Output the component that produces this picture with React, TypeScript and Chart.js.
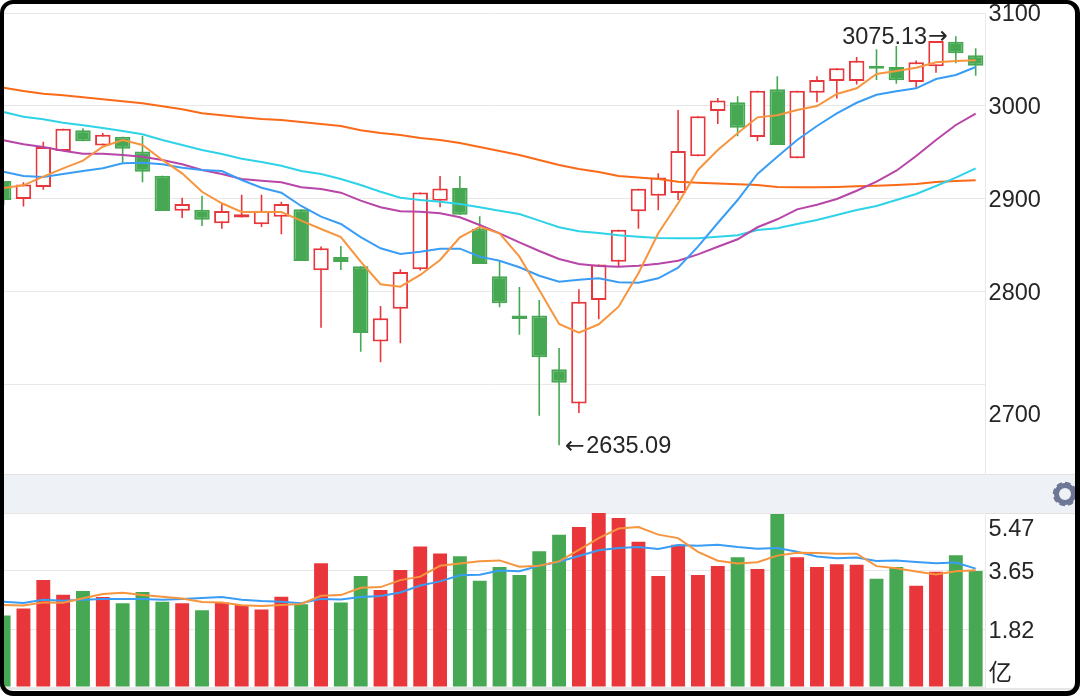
import React, { useEffect, useRef } from "react";
import { Chart, registerables } from "chart.js";

Chart.register(...registerables);

const categories = Array.from({ length: 50 }, (_, i) => String(i + 1));

const opens = [2919.4, 2900, 2913, 2951.6, 2974, 2957.5, 2967, 2951, 2925, 2887.4, 2888.5, 2874, 2880, 2872.8, 2881, 2889, 2823.3, 2837.6, 2827.6, 2746.9, 2782, 2824.4, 2898, 2911.8, 2868, 2816.9, 2774.6, 2774.6, 2717, 2680, 2791.4, 2832.6, 2886.8, 2903.5, 2906.5, 2946, 2994.6, 3004, 2966.7, 3018, 2943.8, 3014.3, 3027, 3027, 3043, 3042, 3025.8, 3042.7, 3069, 3054.5];
const closes = [2899, 2915.6, 2956, 2975.6, 2962, 2969, 2954, 2929.4, 2887, 2894.6, 2877.8, 2887, 2883.5, 2887.4, 2894.6, 2833.3, 2847, 2832.3, 2756, 2771.7, 2821.5, 2907, 2911.4, 2883, 2830, 2787.8, 2771, 2729.8, 2702.5, 2789.6, 2829.7, 2867, 2911, 2923, 2951.6, 2989, 3006, 2976.7, 3016.5, 2958, 3016.5, 3028, 3040.5, 3048.7, 3040, 3027.6, 3047, 3070, 3056.6, 3043.3];
const highs = [2919.4, 2918, 2961.6, 2975.6, 2976, 2971, 2967, 2968, 2925, 2901.4, 2903.6, 2895.4, 2904.6, 2904.6, 2897, 2889, 2849, 2849.5, 2827.6, 2785, 2824.4, 2907, 2924.7, 2924.7, 2881.4, 2833, 2805.4, 2791.4, 2739.8, 2802.9, 2829.7, 2867, 2911, 2927.6, 2995.7, 2989, 3008.6, 3010.4, 3016.5, 3032, 3016.5, 3032, 3040.5, 3052.7, 3061, 3064.5, 3049, 3070, 3075.13, 3062];
const lows = [2893.5, 2892, 2910, 2951.6, 2962, 2957.5, 2939, 2918, 2887, 2879.6, 2871, 2868, 2880, 2870, 2862, 2833.3, 2761.6, 2823.6, 2735.8, 2724.4, 2744.8, 2823, 2891, 2883, 2830, 2783.5, 2754, 2667, 2635.09, 2670, 2770.6, 2828, 2868, 2888, 2899, 2946, 2980.6, 2967.4, 2962, 2958, 2943.8, 3004, 3008, 3023, 3028, 3024, 3019.7, 3035.8, 3046, 3032.6];

const ma5 = [2911.8, 2914.7, 2924, 2933, 2941.2, 2956.2, 2963.4, 2958.1, 2942, 2927.6, 2907.8, 2895.4, 2886, 2886, 2886, 2876.7, 2867.7, 2859.1, 2832.6, 2808.3, 2805.7, 2818.3, 2834.4, 2858.8, 2870.2, 2863.1, 2838, 2802.1, 2765.6, 2756.2, 2765.3, 2784.2, 2820.1, 2863.1, 2895.4, 2931.2, 2952.7, 2970.6, 2987.8, 2990, 2995.7, 3000, 3012.9, 3019, 3034.4, 3037.6, 3041.2, 3047, 3048.4, 3049.1];
const ma10 = [2929.3, 2924.7, 2923.6, 2926.9, 2930.1, 2933, 2938.4, 2939, 2937.3, 2933.7, 2931.2, 2930.1, 2920.4, 2912.1, 2906.8, 2892.5, 2881, 2873.1, 2859.1, 2847, 2840.9, 2843.3, 2846.6, 2846.6, 2838, 2833.6, 2826.6, 2817.5, 2811.1, 2813.2, 2814.7, 2810.4, 2810, 2814.7, 2826.1, 2848.7, 2874.2, 2898.9, 2926.9, 2945.5, 2963.4, 2978.5, 2992.1, 3003.5, 3012.1, 3015.8, 3019, 3029, 3033.3, 3041.9];
const ma20 = [2963.1, 2958.8, 2955.9, 2951.9, 2948.7, 2948.7, 2947.3, 2945.5, 2941.9, 2937.3, 2931.2, 2926.9, 2921.5, 2919.7, 2918, 2912.6, 2910.7, 2906.8, 2898.2, 2891.1, 2886.8, 2886.3, 2884.6, 2880.3, 2872, 2863.1, 2853.4, 2844.1, 2835.5, 2830.1, 2828, 2827.2, 2828.3, 2830.4, 2833.6, 2840.5, 2848.7, 2856.7, 2869.6, 2878.2, 2888.9, 2893.9, 2900, 2908.9, 2918.6, 2930.4, 2946.2, 2963.4, 2979.6, 2991.7];
const ma30 = [2993.5, 2988.5, 2985.7, 2982, 2979.2, 2976.3, 2973.1, 2969.6, 2963.4, 2958.1, 2952.7, 2948.4, 2943.3, 2939.8, 2935.8, 2930.1, 2926.9, 2921.5, 2915, 2907.8, 2901.4, 2898.9, 2897.1, 2894.6, 2891.1, 2887.4, 2883.9, 2876.7, 2869.6, 2865.3, 2863.4, 2861, 2859.5, 2858.1, 2857.7, 2857.7, 2859.5, 2861, 2866.7, 2868.5, 2873.1, 2877.4, 2882.8, 2888.2, 2892.5, 2898.9, 2905.4, 2914, 2922.9, 2933];
const ma60 = [3019.7, 3016.1, 3013.2, 3011.5, 3009.4, 3007.2, 3005.1, 3002.9, 2999.7, 2996.5, 2992.1, 2990, 2987.8, 2986, 2984.9, 2982.8, 2980.6, 2978.5, 2973.9, 2971, 2968.8, 2965.6, 2963.4, 2960.2, 2955.9, 2951.6, 2947.3, 2941.9, 2936.6, 2932.3, 2929, 2924.7, 2923.1, 2921.5, 2918.6, 2917.5, 2916.7, 2915.8, 2915, 2912.9, 2912.6, 2912.6, 2912.9, 2913.6, 2914.3, 2915, 2916.1, 2918.3, 2919.4, 2920.1];

const volumes = [2.25, 2.47, 3.36, 2.9, 3.02, 2.83, 2.63, 2.99, 2.68, 2.63, 2.41, 2.66, 2.58, 2.44, 2.84, 2.6, 3.89, 2.66, 3.49, 3.05, 3.68, 4.42, 4.2, 4.11, 3.34, 3.77, 3.52, 4.27, 4.79, 5.03, 5.47, 5.31, 4.57, 3.49, 4.47, 3.52, 3.8, 4.08, 3.71, 5.44, 4.08, 3.77, 3.86, 3.84, 3.4, 3.77, 3.18, 3.62, 4.14, 3.65];
const volMa5 = [2.58, 2.56, 2.66, 2.65, 2.79, 2.92, 2.96, 2.89, 2.84, 2.78, 2.67, 2.66, 2.57, 2.55, 2.58, 2.61, 2.87, 2.89, 3.12, 3.14, 3.36, 3.47, 3.81, 3.88, 3.95, 3.98, 3.78, 3.81, 3.95, 4.31, 4.68, 4.98, 5.03, 4.79, 4.68, 4.25, 3.97, 3.88, 3.92, 4.13, 4.22, 4.21, 4.19, 4.19, 3.8, 3.73, 3.63, 3.54, 3.64, 3.67];
const volMa10 = [2.68, 2.64, 2.74, 2.71, 2.74, 2.77, 2.77, 2.77, 2.74, 2.77, 2.8, 2.83, 2.74, 2.7, 2.68, 2.63, 2.77, 2.75, 2.83, 2.86, 2.97, 3.19, 3.32, 3.51, 3.53, 3.66, 3.64, 3.81, 3.94, 4.12, 4.3, 4.37, 4.4, 4.34, 4.46, 4.44, 4.47, 4.4, 4.35, 4.37, 4.25, 4.1, 4.05, 4.07, 3.96, 3.98, 3.93, 3.89, 3.91, 3.72];

const priceTicks = [3100, 3000, 2900, 2800, 2700];
const volumeTicks = [5.47, 3.65, 1.82, 0];
const lowValueText = "2635.09";
const highValueText = "3075.13";
const leftArrow = "←";
const rightArrow = "→";
const volumeUnit = "亿";

const RED = "#e8363b";
const GREEN = "#47a853";
const GRID = "#e8e8e8";
const TEXT = "#262626";
const FONT = '"Liberation Sans", "Noto Sans CJK SC", sans-serif';
const ARROW_FONT = '"DejaVu Sans", sans-serif';
const TEXT_SIZE = 23.5;

const isUp = (i: number) => closes[i] >= opens[i];
const candleColors = categories.map((_, i) => (isUp(i) ? RED : GREEN));
const bodyFills = categories.map((_, i) => (isUp(i) ? "#ffffff" : GREEN));

const line = (label: string, data: number[], color: string, borderWidth = 2) => ({
  type: "line" as const,
  label,
  data,
  borderColor: color,
  borderWidth,
  pointRadius: 0,
  tension: 0,
  fill: false,
  order: 0,
});

const annotationPlugin = {
  id: "extremes",
  afterDatasetsDraw(chart: any) {
    const { ctx, scales } = chart;
    const lowI = lows.indexOf(Math.min(...lows));
    const highI = highs.indexOf(Math.max(...highs));
    ctx.save();
    ctx.fillStyle = TEXT;
    ctx.textBaseline = "middle";
    const lowX = scales.x.getPixelForValue(lowI) + 6;
    const lowY = scales.y.getPixelForValue(lows[lowI]) + 1.5;
    const highX = scales.x.getPixelForValue(highI) - 8;
    const highY = scales.y.getPixelForValue(highs[highI]) + 1;

    ctx.textAlign = "left";
    ctx.font = `${TEXT_SIZE}px ${ARROW_FONT}`;
    ctx.fillText(leftArrow, lowX, lowY);
    const leftW = ctx.measureText(leftArrow).width;
    ctx.font = `${TEXT_SIZE}px ${FONT}`;
    ctx.fillText(lowValueText, lowX + leftW + 1.5, lowY);

    ctx.textAlign = "right";
    ctx.font = `${TEXT_SIZE}px ${ARROW_FONT}`;
    ctx.fillText(rightArrow, highX, highY);
    const rightW = ctx.measureText(rightArrow).width;
    ctx.font = `${TEXT_SIZE}px ${FONT}`;
    ctx.fillText(highValueText, highX - rightW - 1, highY);
    ctx.restore();
  },
};

const AXIS_WIDTH = 94.4;
const LABEL_SHIFT = 2;

function yAxis(min: number, max: number, tickValues: number[], label: (v: number) => any) {
  return {
    position: "right" as const,
    min,
    max,
    afterBuildTicks(scale: any) {
      scale.ticks = tickValues.map((value) => ({ value }));
    },
    afterFit(scale: any) {
      scale.width = AXIS_WIDTH;
      if (!scale.__shifted) {
        scale.__shifted = true;
        const original = scale.drawLabels.bind(scale);
        scale.drawLabels = (area: any) => {
          scale.ctx.save();
          scale.ctx.translate(0, LABEL_SHIFT);
          original(area);
          scale.ctx.restore();
        };
      }
    },
    border: { display: true, color: GRID, width: 1 },
    grid: { color: GRID, lineWidth: 1, drawTicks: false },
    ticks: {
      autoSkip: false,
      padding: 3,
      color: TEXT,
      font: { family: FONT, size: TEXT_SIZE, lineHeight: 1.2 },
      callback: (v: any) => label(Number(v)),
    },
  };
}

const xAxis = { display: false, offset: true, grid: { display: false } };

export default function App() {
  const priceRef = useRef<HTMLCanvasElement>(null);
  const volumeRef = useRef<HTMLCanvasElement>(null);

  useEffect(() => {
    const price = new Chart(priceRef.current!, {
      type: "bar",
      data: {
        labels: categories,
        datasets: [
          line("MA5", ma5, "#f7953f"),
          line("MA10", ma10, "#3a9df5"),
          line("MA20", ma20, "#b845a8"),
          line("MA30", ma30, "#2ed3e8"),
          line("MA60", ma60, "#fa6a18"),
          {
            label: "K",
            data: categories.map((_, i) => [opens[i], closes[i]]),
            backgroundColor: bodyFills,
            borderColor: candleColors,
            borderWidth: 2,
            borderSkipped: false,
            inflateAmount: 0,
            grouped: false,
            categoryPercentage: 1,
            barPercentage: 0.78,
            order: 1,
          },
          {
            label: "HL",
            data: categories.map((_, i) => [lows[i], highs[i]]),
            backgroundColor: candleColors,
            borderWidth: 0,
            inflateAmount: 0,
            grouped: false,
            barThickness: 1.6,
            order: 2,
          },
        ] as any,
      },
      options: {
        animation: false,
        responsive: false,
        layout: { padding: { left: 0.7, top: 53, bottom: 40, right: 0 } },
        plugins: { legend: { display: false }, tooltip: { enabled: false } },
        scales: {
          x: xAxis,
          y: yAxis(2604.3, 3100, priceTicks, (v) => (v === 2700 ? ["", "", String(v)] : String(v))),
        },
      } as any,
      plugins: [annotationPlugin],
    });

    const volume = new Chart(volumeRef.current!, {
      type: "bar",
      data: {
        labels: categories,
        datasets: [
          line("VMA5", volMa5, "#f7953f"),
          line("VMA10", volMa10, "#3a9df5"),
          {
            label: "VOL",
            data: volumes,
            backgroundColor: candleColors,
            borderWidth: 0,
            inflateAmount: 0,
            grouped: false,
            categoryPercentage: 1,
            barPercentage: 0.7,
            order: 1,
          },
        ] as any,
      },
      options: {
        animation: false,
        responsive: false,
        layout: { padding: { left: 0.7, top: 40, bottom: 40, right: 0 } },
        plugins: { legend: { display: false }, tooltip: { enabled: false } },
        scales: {
          x: xAxis,
          y: yAxis(0, 5.47, volumeTicks, (v) => {
            if (v === 0) return [volumeUnit, ""];
            if (v === 5.47) return ["", v.toFixed(2)];
            return v.toFixed(2);
          }),
        },
      } as any,
    });

    return () => {
      price.destroy();
      volume.destroy();
    };
  }, []);

  return (
    <div style={{ position: "fixed", left: 0, top: 0, width: 1080, height: 696, overflow: "hidden", background: "#fff" }}>
      <div style={{ position: "absolute", left: 0, top: 474, width: 1080, height: 38, background: "#eef1f6", borderTop: "1px solid #e2e2e2", borderBottom: "1px solid #e2e2e2" }} />
      <div style={{ position: "absolute", left: 0, top: 688, width: 1080, height: 2, background: "#e6e6e6" }} />
      <canvas ref={priceRef} width={1087} height={554} style={{ position: "absolute", left: -7, top: -40, width: 1087, height: 554 }} />
      <canvas ref={volumeRef} width={1087} height={254} style={{ position: "absolute", left: -7, top: 473, width: 1087, height: 254 }} />
      <svg width={30} height={30} viewBox="0 0 30 30" style={{ position: "absolute", left: 1050, top: 479 }}>
        <circle cx={15} cy={15} r={8.5} fill="none" stroke="#6f7796" strokeWidth={5} />
        <circle cx={15} cy={15} r={10.5} fill="none" stroke="#6f7796" strokeWidth={3.5} strokeDasharray="5.2 3" />
      </svg>
      <div style={{ position: "absolute", inset: 0, boxSizing: "border-box", border: "5px solid #000", borderLeftWidth: 4, borderTopWidth: 4, borderRadius: 13, pointerEvents: "none" }} />
    </div>
  );
}
